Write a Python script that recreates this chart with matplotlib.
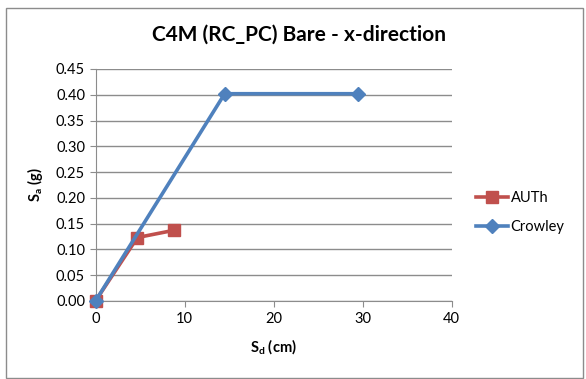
import matplotlib
matplotlib.use("Agg")
import matplotlib.pyplot as plt
from matplotlib.patches import Rectangle

plt.rcParams['font.family'] = ['Lato', 'DejaVu Sans']

auth_x = [0.0, 4.7, 8.8]
auth_y = [0.0, 0.123, 0.137]
crowley_x = [0.0, 14.5, 29.5]
crowley_y = [0.0, 0.402, 0.402]
x_ticks = [0, 10, 20, 30, 40]
y_ticks = [0.00, 0.05, 0.10, 0.15, 0.20, 0.25, 0.30, 0.35, 0.40, 0.45]

fig = plt.figure(figsize=(5.86, 3.79), dpi=100)
fig.patches.append(Rectangle((6/586, 1/379), 577/586, 370/379, transform=fig.transFigure,
                             fill=False, edgecolor='#8c8c8c', linewidth=1.0))
ax = fig.add_axes([0.163, 0.206, 0.608, 0.612])

red = '#c0504d'
blue = '#4f81bd'
ax.plot(auth_x, auth_y, color=red, lw=2.6, marker='s', ms=9, label='AUTh', zorder=3, clip_on=False)
ax.plot(crowley_x, crowley_y, color=blue, lw=2.6, marker='D', ms=7, label='Crowley', zorder=4, clip_on=False)

ax.set_xlim(0, 40)
ax.set_ylim(0, 0.45)
ax.set_xticks(x_ticks)
ax.set_yticks(y_ticks)
ax.set_yticklabels([f"{v:.2f}" for v in y_ticks])
ax.grid(axis='y', color='#8c8c8c', lw=1.0)
ax.set_axisbelow(True)
for s in ['top', 'right']:
    ax.spines[s].set_visible(False)
for s in ['left', 'bottom']:
    ax.spines[s].set_color('#8c8c8c')
ax.tick_params(axis='both', colors='#8c8c8c', labelcolor='black', labelsize=10.5, length=4)
ax.tick_params(axis='x', pad=4)

fig.text(0.51, 0.908, 'C4M (RC_PC) Bare - x-direction', fontsize=15, fontweight='bold',
         ha='center', va='center')
ax.set_xlabel('S$_\\mathregular{d}$ (cm)', fontsize=10.5, fontweight='bold', labelpad=8)
ax.set_ylabel('S$_\\mathregular{a}$ (g)', fontsize=10.5, fontweight='bold', labelpad=8)

leg = ax.legend(loc='center left', bbox_to_anchor=(1.03, 0.38), frameon=False, fontsize=10.5,
                handlelength=2.2, handletextpad=0.2, labelspacing=1.0)

fig.savefig('out.png', dpi=100)
